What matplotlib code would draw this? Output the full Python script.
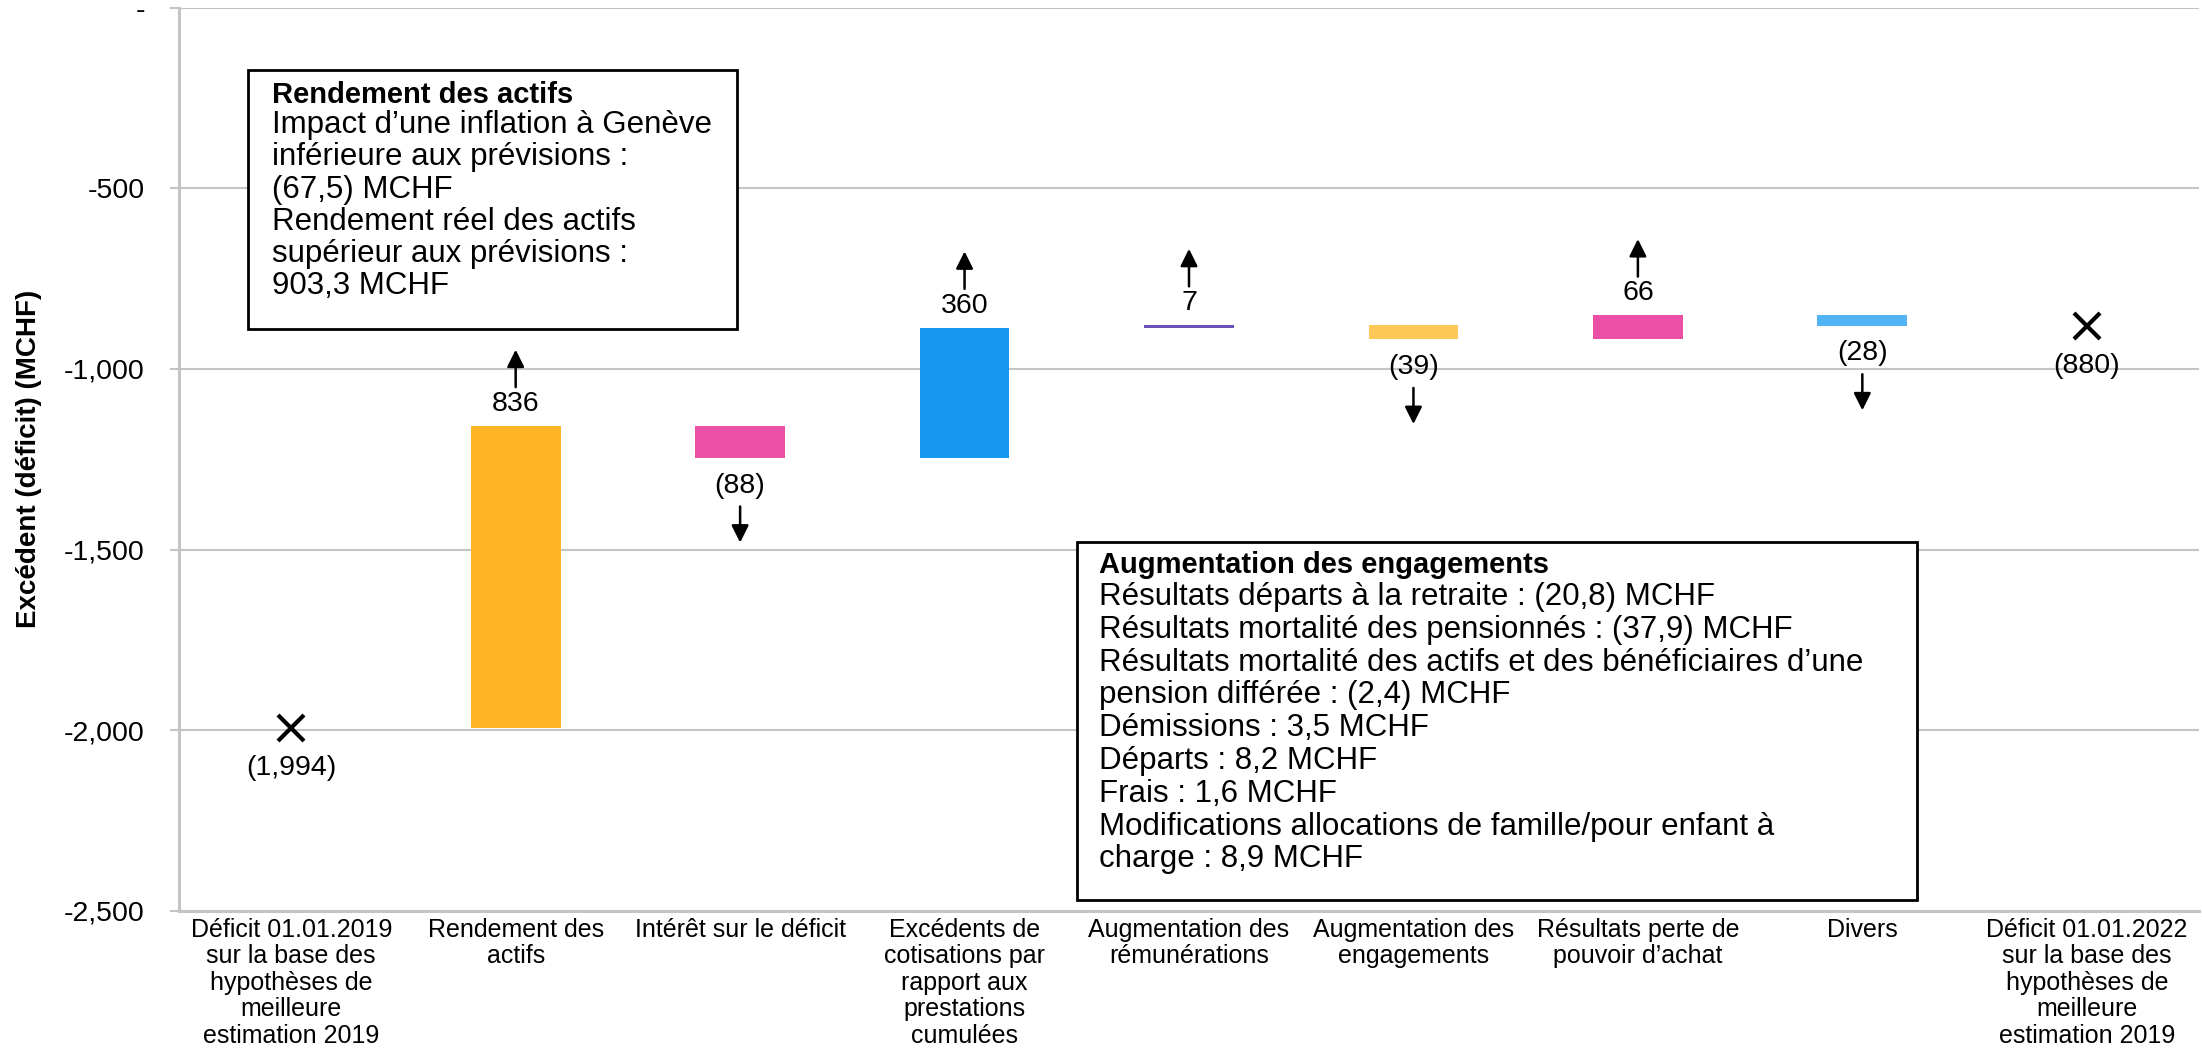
import numpy as np
import matplotlib.pyplot as plt
from matplotlib.patches import Rectangle
from matplotlib.ticker import FuncFormatter
from matplotlib.transforms import offset_copy

plt.rcParams['font.family'] = ['Liberation Sans', 'DejaVu Sans']

# Données (MCHF)
categories = [
    "Déficit 01.01.2019\nsur la base des\nhypothèses de\nmeilleure\nestimation 2019",
    "Rendement des\nactifs",
    "Intérêt sur le déficit",
    "Excédents de\ncotisations par\nrapport aux\nprestations\ncumulées",
    "Augmentation des\nrémunérations",
    "Augmentation des\nengagements",
    "Résultats perte de\npouvoir d’achat",
    "Divers",
    "Déficit 01.01.2022\nsur la base des\nhypothèses de\nmeilleure\nestimation 2019",
]
start_value = -1994
end_value = -880
deltas = [836, -88, 360, 7, -39, 66, -28]
bar_colors = ["#FDB525", "#EC4FA6", "#1697EE", "#6A54B8", "#FFC95A", "#EC4FA6", "#52B4F5"]

box1_title = "Rendement des actifs"
box1_lines = [
    "Impact d’une inflation à Genève",
    "inférieure aux prévisions :",
    "(67,5) MCHF",
    "Rendement réel des actifs",
    "supérieur aux prévisions :",
    "903,3 MCHF",
]
box2_title = "Augmentation des engagements"
box2_lines = [
    "Résultats départs à la retraite : (20,8) MCHF",
    "Résultats mortalité des pensionnés : (37,9) MCHF",
    "Résultats mortalité des actifs et des bénéficiaires d’une",
    "pension différée : (2,4) MCHF",
    "Démissions : 3,5 MCHF",
    "Départs : 8,2 MCHF",
    "Frais : 1,6 MCHF",
    "Modifications allocations de famille/pour enfant à",
    "charge : 8,9 MCHF",
]


def fmt(v):
    return f"({abs(v):,})" if v < 0 else f"{v:,}"


W, H = 2202, 1050
fig = plt.figure(figsize=(W / 100, H / 100), dpi=100)
ax = fig.add_axes([179 / W, 1 - 911 / H, 2020 / W, (911 - 7.6) / H])

grid_c = "#C4C4C4"
ax.set_xlim(-0.5, len(categories) - 0.5)
ax.set_ylim(-2500, 0)
ax.set_yticks(np.arange(-2500, 1, 500))
ax.yaxis.set_major_formatter(FuncFormatter(lambda v, p: "-" if v == 0 else f"{v:,.0f}"))
ax.yaxis.grid(True, color=grid_c, lw=1.5)
ax.set_axisbelow(True)
for s in ["top", "right"]:
    ax.spines[s].set_visible(False)
for s in ["left", "bottom"]:
    ax.spines[s].set_color(grid_c)
    ax.spines[s].set_linewidth(2.2)
ax.tick_params(axis="y", colors=grid_c, labelcolor="black", length=6.5, width=1.5,
               pad=18, labelsize=20.5)
ax.tick_params(axis="x", length=0, pad=5)
ax.set_xticks(range(len(categories)))
ax.set_xticklabels(categories, fontsize=18, linespacing=1.13)
ax.set_ylabel("Excédent (déficit) (MCHF)", fontsize=20, fontweight="bold")
ax.yaxis.set_label_coords(-0.068, 0.5)

# Barres en cascade
levels = start_value + np.concatenate([[0], np.cumsum(deltas)])
x_mid = np.arange(1, len(deltas) + 1)
bottoms = np.minimum(levels[:-1], levels[1:])
heights = np.abs(deltas)
ax.bar(x_mid, heights, bottom=bottoms, width=0.4, color=bar_colors, zorder=3)

# Points de départ et d'arrivée
ends_x = [0, len(categories) - 1]
ends_y = [start_value, end_value]
ax.plot(ends_x, ends_y, linestyle="none", marker="x", ms=19, mew=3, color="black", zorder=4)
for xv, yv in zip(ends_x, ends_y):
    ax.annotate(fmt(yv), (xv, yv), xytext=(0, -29), textcoords="offset points",
                ha="center", va="center", fontsize=20.5)

# Étiquettes et flèches
arrow_kw = dict(arrowstyle="-|>", color="black", lw=1.8, mutation_scale=26,
                shrinkA=0, shrinkB=0)
for xv, d, lo, hi in zip(x_mid, deltas, levels[:-1], levels[1:]):
    if d > 0:
        y0, sign, lab, tail, tip = max(lo, hi), 1, 16, 28, 55
    else:
        y0, sign, lab, tail, tip = min(lo, hi), -1, 20, 35, 61
    ax.annotate(fmt(d), (xv, y0), xytext=(0, sign * lab), textcoords="offset points",
                ha="center", va="center", fontsize=20.5)
    tip_tr = offset_copy(ax.transData, fig=fig, y=sign * tip, units="points")
    tail_tr = offset_copy(ax.transData, fig=fig, y=sign * tail, units="points")
    ax.annotate("", xy=(xv, y0), xycoords=tip_tr, xytext=(xv, y0), textcoords=tail_tr,
                arrowprops=arrow_kw)


# Encadrés de commentaires
def text_box(x0, y0, x1, y1, tx, title, title_y, lines, line_y, step):
    fig.add_artist(Rectangle((x0 / W, 1 - y1 / H), (x1 - x0) / W, (y1 - y0) / H,
                             transform=fig.transFigure, facecolor="white",
                             edgecolor="black", lw=2, zorder=2))
    fig.text(tx / W, 1 - title_y / H, title, fontsize=21, fontweight="bold",
             va="center", ha="left", zorder=3)
    for k, line in enumerate(lines):
        fig.text(tx / W, 1 - (line_y + k * step) / H, line, fontsize=22.5,
                 va="center", ha="left", zorder=3)


text_box(248, 70, 737, 329, 272, box1_title, 95, box1_lines, 125, 32.3)
text_box(1077, 542, 1917, 900, 1099, box2_title, 565, box2_lines, 597, 32.8)

fig.savefig("out.png", dpi=100)
